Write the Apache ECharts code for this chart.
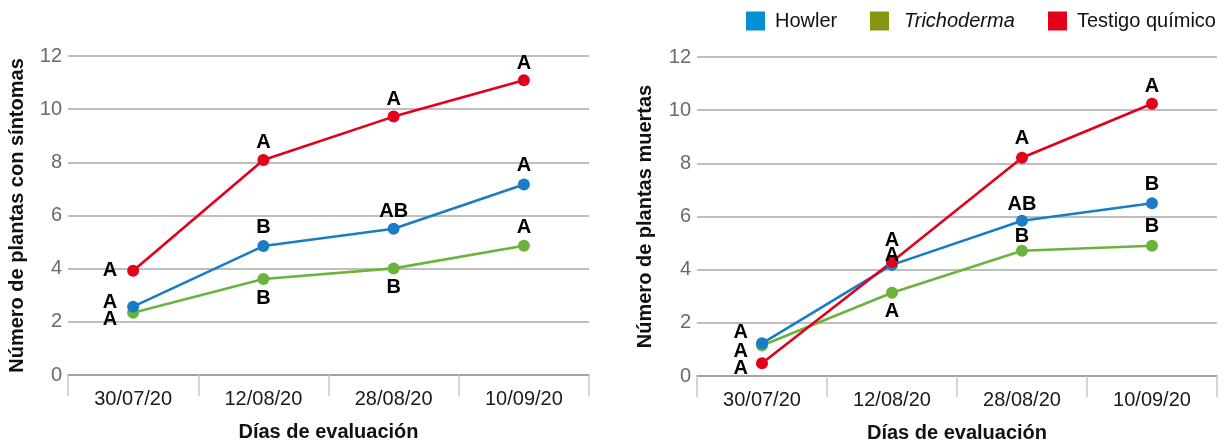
<!DOCTYPE html>
<html>
<head>
<meta charset="utf-8">
<script src="https://cdn.jsdelivr.net/npm/echarts@6/dist/echarts.min.js"></script>
<style>
  html, body { margin: 0; padding: 0; background: #fff; }
  #chart { width: 1226px; height: 442px; }
</style>
</head>
<body>
<div id="chart"></div>
<script>
// Evaluation dates
const fechas = ['30/07/20', '12/08/20', '28/08/20', '10/09/20'];
const yTicks = [0, 2, 4, 6, 8, 10, 12];
const serieNombres = ['Howler', 'Trichoderma', 'Testigo químico'];

// Plants with symptoms
const sintomasHowler = [2.57, 4.85, 5.5, 7.17];
const sintomasTricho = [2.34, 3.61, 4.01, 4.86];
const sintomasTestigo = [3.92, 8.09, 9.72, 11.09];
const sintomasLetrasHowler = ['A', 'B', 'AB', 'A'];
const sintomasLetrasTricho = ['A', 'B', 'B', 'A'];
const sintomasLetrasTestigo = ['A', 'A', 'A', 'A'];

// Dead plants
const muertasHowler = [1.23, 4.18, 5.84, 6.5];
const muertasTricho = [1.15, 3.13, 4.71, 4.9];
const muertasTestigo = [0.48, 4.3, 8.21, 10.24];
const muertasLetrasHowler = ['A', 'A', 'AB', 'B'];
const muertasLetrasTricho = ['A', 'A', 'B', 'B'];
const muertasLetrasTestigo = ['A', 'A', 'A', 'A'];

// Label placement (position, [dx, dy]) per point
const posSintomasHowler = [['left', [-6, -4]], ['top', [0, 1]], ['top', [0, 3]], ['top', [0, 1]]];
const posSintomasTricho = [['left', [-6, 7]], ['bottom', [0, -1]], ['bottom', [0, -1]], ['top', [0, 2]]];
const posSintomasTestigo = [['left', [-6, 0]], ['top', [0, 3]], ['top', [0, 3]], ['top', [0, 3]]];
const posMuertasHowler = [['left', [-4, -11]], ['top', [0, 11]], ['top', [0, 4]], ['top', [0, 1]]];
const posMuertasTricho = [['left', [-4, 6]], ['bottom', [0, -1]], ['top', [0, 6]], ['top', [0, 1]]];
const posMuertasTestigo = [['left', [-4, 5]], ['top', [0, -1]], ['top', [0, 1]], ['top', [0, 3]]];

// Legend placement (left edge of each entry)
const leyendaX = [746, 870, 1048];

const colLinea = { 'Howler': '#1a7cc4', 'Trichoderma': '#6cb33e', 'Testigo químico': '#e2001a' };
const colLeyenda = { 'Howler': '#0090d3', 'Trichoderma': '#879510', 'Testigo químico': '#e2001a' };
const FONT = '"Liberation Sans", Arial, Helvetica, sans-serif';

function puntos(vals, letras, pos) {
  return vals.map((v, i) => ({
    value: v,
    label: { formatter: letras[i], position: pos[i][0], offset: pos[i][1] }
  }));
}

function serie(nombre, idx, vals, letras, pos) {
  return {
    name: nombre,
    type: 'line',
    xAxisIndex: idx,
    yAxisIndex: idx,
    data: puntos(vals, letras, pos),
    symbol: 'circle',
    symbolSize: 12,
    color: colLinea[nombre],
    lineStyle: { width: 2.6, color: colLinea[nombre] },
    itemStyle: { color: colLinea[nombre] },
    label: {
      show: true,
      distance: 4,
      fontFamily: FONT,
      fontWeight: 'bold',
      fontSize: 20,
      color: '#000'
    },
    animation: false
  };
}

function ejeX(idx) {
  return {
    type: 'category',
    gridIndex: idx,
    data: fechas,
    boundaryGap: true,
    name: 'Días de evaluación',
    nameLocation: 'middle',
    nameGap: 47,
    nameTextStyle: { fontFamily: FONT, fontSize: 20, color: '#111', fontWeight: 'bold' },
    axisLine: { lineStyle: { color: '#9a9a9a', width: 1.5 } },
    axisTick: { show: true, length: 21, interval: 0, lineStyle: { color: '#c8c8c8', width: 1.5 } },
    axisLabel: { fontFamily: FONT, fontSize: 20, color: '#1a1a1a', margin: 14, interval: 0 }
  };
}

function ejeY(idx, nombre, gap) {
  return {
    type: 'value',
    gridIndex: idx,
    min: yTicks[0],
    max: yTicks[yTicks.length - 1],
    interval: 2,
    name: nombre,
    nameLocation: 'middle',
    nameRotate: 90,
    nameGap: gap,
    nameTextStyle: { fontFamily: FONT, fontSize: 20, color: '#111', fontWeight: 'bold' },
    axisLine: { show: false },
    axisTick: { show: false },
    axisLabel: { fontFamily: FONT, fontSize: 20, color: '#6a6a6a', margin: 6 },
    splitLine: { lineStyle: { color: '#a8a8a8', width: 1.5 } }
  };
}

const leyendas = serieNombres.map((n, i) => ({
  top: 11,
  left: leyendaX[i],
  padding: 0,
  itemWidth: 19,
  itemHeight: 19,
  icon: 'rect',
  textStyle: {
    fontFamily: FONT,
    fontSize: 20,
    color: '#111',
    padding: [0, 0, 0, 5],
    rich: { i: { fontStyle: 'italic', fontFamily: FONT, fontSize: 20, color: '#111', padding: [0, 0, 0, 5] } }
  },
  formatter: s => s === 'Trichoderma' ? '{i|' + s + '}' : s,
  data: [{ name: n, itemStyle: { color: colLeyenda[n] } }]
}));

const chart = echarts.init(document.getElementById('chart'), null, { renderer: 'canvas' });
chart.setOption({
  backgroundColor: '#fff',
  animation: false,
  legend: leyendas,
  grid: [
    { left: 68, right: 637, top: 56, bottom: 67, containLabel: false, outerBoundsMode: 'none' },
    { left: 697, right: 9, top: 57, bottom: 66, containLabel: false, outerBoundsMode: 'none' }
  ],
  xAxis: [ejeX(0), ejeX(1)],
  yAxis: [ejeY(0, 'Número de plantas con síntomas', 41), ejeY(1, 'Número de plantas muertas', 42)],
  series: [
    serie('Trichoderma', 0, sintomasTricho, sintomasLetrasTricho, posSintomasTricho),
    serie('Howler', 0, sintomasHowler, sintomasLetrasHowler, posSintomasHowler),
    serie('Testigo químico', 0, sintomasTestigo, sintomasLetrasTestigo, posSintomasTestigo),
    serie('Trichoderma', 1, muertasTricho, muertasLetrasTricho, posMuertasTricho),
    serie('Howler', 1, muertasHowler, muertasLetrasHowler, posMuertasHowler),
    serie('Testigo químico', 1, muertasTestigo, muertasLetrasTestigo, posMuertasTestigo)
  ]
});
</script>
</body>
</html>
